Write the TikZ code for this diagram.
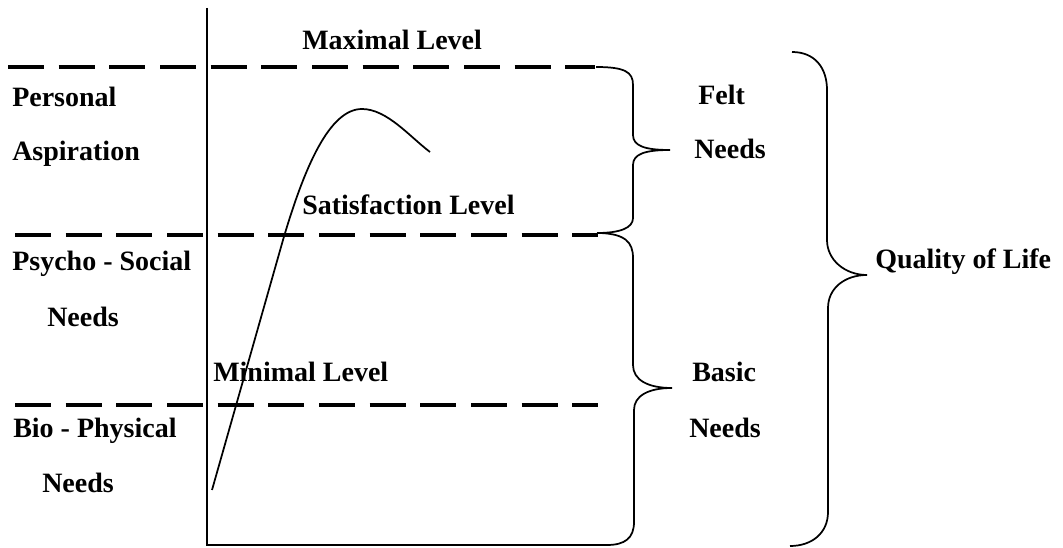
\documentclass[tikz,border=0pt]{standalone}
\usepackage{fontspec}
\setmainfont{Liberation Serif}
\begin{document}
\begin{tikzpicture}[x=0.75pt,y=-0.75pt,
  lbl/.style={anchor=base west,inner sep=0pt,font=\fontsize{21}{25}\selectfont\bfseries},
  axisline/.style={line width=1.3pt,black},
  levelline/.style={line width=2.8pt,dash pattern=on 27pt off 11pt,black},
  curveline/.style={line width=1.3pt,black},
  bracepath/.style={line width=1.3pt,black}]
\useasboundingbox (0,0) rectangle (1063,548);
% axes
\coordinate (top) at (207,8);
\coordinate (origin) at (207,545);
\coordinate (xend) at (607,545);
\draw[axisline] (top) -- (origin) -- (xend);
% level lines
\draw[levelline] (8,67) -- (595,67);
\draw[levelline] (15,235) -- (598,235);
\draw[levelline] (15,405) -- (598,405);
% curve
\draw[curveline] (212,490) -- (283,240) .. controls (305,165) and (330,109) .. (362,109)
  .. controls (387,109) and (410,137) .. (430,152);
% felt needs brace
\draw[bracepath] (596,67) .. controls (625,67) and (633,72) .. (633,85) -- (633,135)
  .. controls (633,146) and (645,150) .. (670,150)
  .. controls (645,150) and (633,154) .. (633,165) -- (633,218)
  .. controls (633,228) and (620,233) .. (597,233);
% basic needs brace
\draw[bracepath] (600,233) .. controls (625,234) and (633,242) .. (633,258) -- (633,365)
  .. controls (633,380) and (648,388) .. (672,388)
  .. controls (648,388) and (634,396) .. (634,410) -- (634,522)
  .. controls (634,538) and (625,545) .. (607,545);
% quality of life brace
\draw[bracepath] (792,52) .. controls (815,52) and (827,68) .. (827,90) -- (827,240)
  .. controls (827,260) and (845,275) .. (867,275)
  .. controls (845,275) and (828,288) .. (828,308) -- (828,512)
  .. controls (828,533) and (812,546) .. (790,546);
% labels
\node[lbl] (maxl) at (302,50) {Maximal Level};
\node[lbl] (satl) at (302,215) {Satisfaction Level};
\node[lbl] (minl) at (213,382) {Minimal Level};
\node[lbl] (pers) at (12,107) {Personal};
\node[lbl] (aspi) at (12,161) {Aspiration};
\node[lbl] (psy) at (12,271) {Psycho - Social};
\node[lbl] (psyn) at (47,327) {Needs};
\node[lbl] (bio) at (13,437) {Bio - Physical};
\node[lbl] (bion) at (42,492) {Needs};
\node[lbl] (felt) at (698,105) {Felt};
\node[lbl] (feltn) at (694,159) {Needs};
\node[lbl] (basic) at (692,382) {Basic};
\node[lbl] (basicn) at (689,437) {Needs};
\node[lbl] (qol) at (875,269) {Quality of Life};
\end{tikzpicture}
\end{document}
